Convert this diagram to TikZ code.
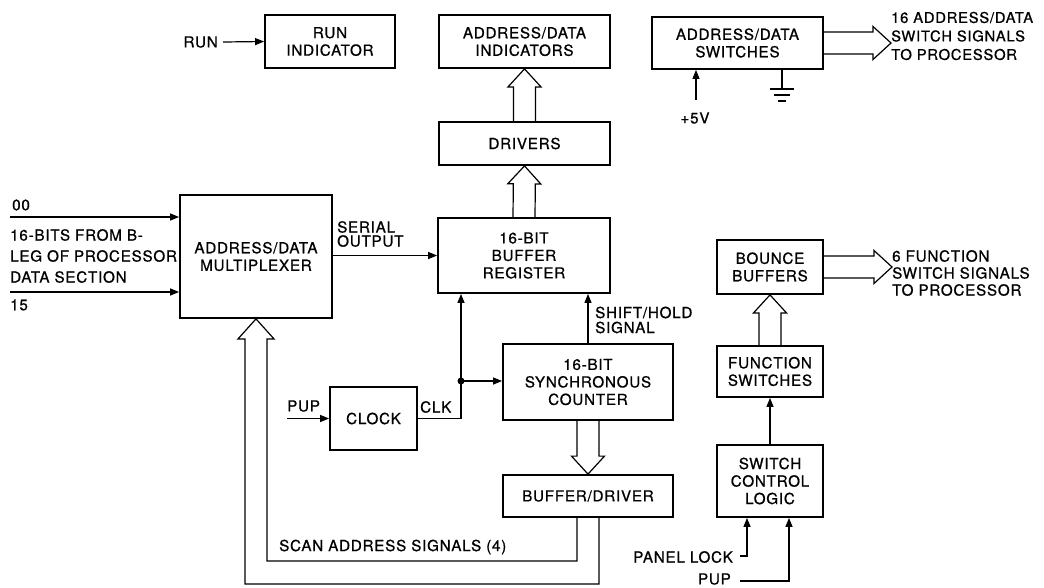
\documentclass[tikz,border=0pt]{standalone}
\usepackage{fontspec}
\setmainfont{TeX Gyre Heros}[LetterSpace=5,FakeBold=0.8]
\usetikzlibrary{arrows.meta,calc,positioning}

\newcommand{\busarrow}[2]{%
  \coordinate (bt) at (#1);
  \coordinate (bh) at (#2);
  \coordinate (bb) at ($(bh)!18pt!(bt)$);
  \draw[bus] ($(bt)!11pt!90:(bh)$) -- ($(bb)!11pt!-90:(bt)$) -- ($(bb)!16.5pt!-90:(bt)$)
    -- (bh) -- ($(bb)!16.5pt!90:(bt)$) -- ($(bb)!11pt!90:(bt)$) -- ($(bt)!11pt!-90:(bh)$);}

\begin{document}
\begin{tikzpicture}[x=1pt,y=-1pt,
  every node/.style={font=\fontsize{15.2}{17.5}\selectfont},
  box/.style={draw,line width=1.8pt,align=center,inner sep=0pt},
  lbl/.style={align=left,inner sep=0pt},
  sig/.style={line width=1.2pt,-{Triangle[length=9pt,width=7pt]}},
  wire/.style={line width=1.2pt},
  bus/.style={line width=1.2pt,line join=miter}]
  \useasboundingbox (0,0) rectangle (1044,587);

  \node[box,minimum width=130pt,minimum height=53pt] (run) at (330,41.5) {RUN\\INDICATOR};
  \node[box,minimum width=171pt,minimum height=53pt] (adind) at (524.5,41.5) {ADDRESS/DATA\\INDICATORS};
  \node[box,minimum width=171pt,minimum height=52pt] (adsw) at (737.5,43) {ADDRESS/DATA\\SWITCHES};
  \node[box,minimum width=171pt,minimum height=43pt] (drv) at (524.5,143.5) {DRIVERS};
  \node[box,minimum width=172pt,minimum height=75pt] (bufreg) at (524,255.5) {16-BIT\\BUFFER\\REGISTER};
  \node[box,minimum width=152pt,minimum height=123pt] (mux) at (256,256.5) {ADDRESS/DATA\\MULTIPLEXER};
  \node[box,minimum width=87pt,minimum height=63pt] (clock) at (373.5,418.5) {CLOCK};
  \node[box,minimum width=170pt,minimum height=76pt] (cnt) at (588,382) {16-BIT\\SYNCHRONOUS\\COUNTER};
  \node[box,minimum width=170pt,minimum height=42pt] (bufdrv) at (588,496) {BUFFER/DRIVER};
  \node[box,minimum width=106pt,minimum height=54pt] (bounce) at (770,267) {BOUNCE\\BUFFERS};
  \node[box,minimum width=106pt,minimum height=51pt] (fsw) at (770,371.5) {FUNCTION\\SWITCHES};
  \node[box,minimum width=106pt,minimum height=72pt] (scl) at (770,481) {SWITCH\\CONTROL\\LOGIC};

  \node[lbl,anchor=east] (runin) at (218,42) {RUN};
  \node[lbl,anchor=west] (in00) at (12,205) {00};
  \node[lbl,anchor=west,font={\fontsize{15.2}{21}\selectfont}] (bleg) at (10,256) {16-BITS FROM B-\\LEG OF PROCESSOR\\DATA SECTION};
  \node[lbl,anchor=west] (in15) at (10,305) {15};
  \node[lbl,anchor=west,font={\fontsize{15.2}{14}\selectfont}] (serial) at (337,234) {SERIAL\\OUTPUT};
  \node[lbl,anchor=west] (pupclk) at (287,406) {PUP};
  \node[lbl,anchor=west] (clk) at (420,407) {CLK};
  \node[lbl,anchor=west,font={\fontsize{15.2}{15}\selectfont}] (shift) at (595,320) {SHIFT/HOLD\\SIGNAL};
  \node[lbl,anchor=west] (scan) at (279,547) {SCAN ADDRESS SIGNALS (4)};
  \node[lbl,anchor=west,font={\fontsize{14.8}{18.5}\selectfont}] (adswout) at (891,36) {16 ADDRESS/DATA\\SWITCH SIGNALS\\TO PROCESSOR};
  \node[lbl,anchor=west,font={\fontsize{15.2}{17}\selectfont}] (fout) at (892,273) {6 FUNCTION\\SWITCH SIGNALS\\TO PROCESSOR};
  \node[lbl] (p5v) at (695,118) {+5V};
  \node[lbl,anchor=east] (plock) at (733,557) {PANEL LOCK};
  \node[lbl,anchor=east] (pupsw) at (731,579) {PUP};

  \coordinate (a00) at (10,217);
  \coordinate (a15) at (10,292);
  \coordinate (jn) at (461,381);
  \coordinate (v5) at (696,100);
  \coordinate (gnd) at (782,89);
  \coordinate (pl) at (740,556);
  \coordinate (pp) at (740,581);

  \draw[sig] ([xshift=5pt]runin.east) -- (run.west);
  \draw[sig] (a00) -- (a00 -| mux.west);
  \draw[sig] (a15) -- (a15 -| mux.west);
  \draw[sig] (mux.east |- bufreg.west) -- (bufreg.west);
  \draw[sig] (pupclk.west |- clock.west) -- (clock.west);
  \draw[wire] (clock.east) -| (jn);
  \draw[sig] (jn) -- (jn |- bufreg.south);
  \draw[sig] (jn) -- (jn -| cnt.west);
  \fill (jn) circle[radius=3.5pt];
  \draw[sig] (cnt.north) -- (cnt.north |- bufreg.south);
  \draw[sig] (scl.north) -- (fsw.south);
  \draw[sig] (pl) -| ($(scl.south)+(-23,0)$);
  \draw[sig] (pp) -| ($(scl.south)+(19,0)$);
  \draw[sig] (v5) -- (v5 |- adsw.south);
  \draw[wire] (gnd |- adsw.south) -- (gnd);
  \draw[wire] ($(gnd)+(-12,0)$) -- ($(gnd)+(12,0)$)
    ($(gnd)+(-8,6)$) -- ($(gnd)+(8,6)$)
    ($(gnd)+(-4,12)$) -- ($(gnd)+(4,12)$);

  \busarrow{drv.north}{adind.south}
  \busarrow{bufreg.north}{drv.south}
  \busarrow{cnt.south}{bufdrv.north}
  \busarrow{fsw.north}{bounce.south}
  \busarrow{adsw.east}{adswout.west |- adsw.east}
  \busarrow{bounce.east}{fout.west |- bounce.east}
  \draw[bus] ($(bufdrv.south)+(11,0)$) |- ($(mux.south)+(-11,265)$) -- ($(mux.south)+(-11,20)$)
    -- ($(mux.south)+(-18,20)$) -- (mux.south) -- ($(mux.south)+(18,20)$) -- ($(mux.south)+(11,20)$)
    |- ($(bufdrv.south)+(-11,43)$) -- ($(bufdrv.south)+(-11,0)$);
\end{tikzpicture}
\end{document}
